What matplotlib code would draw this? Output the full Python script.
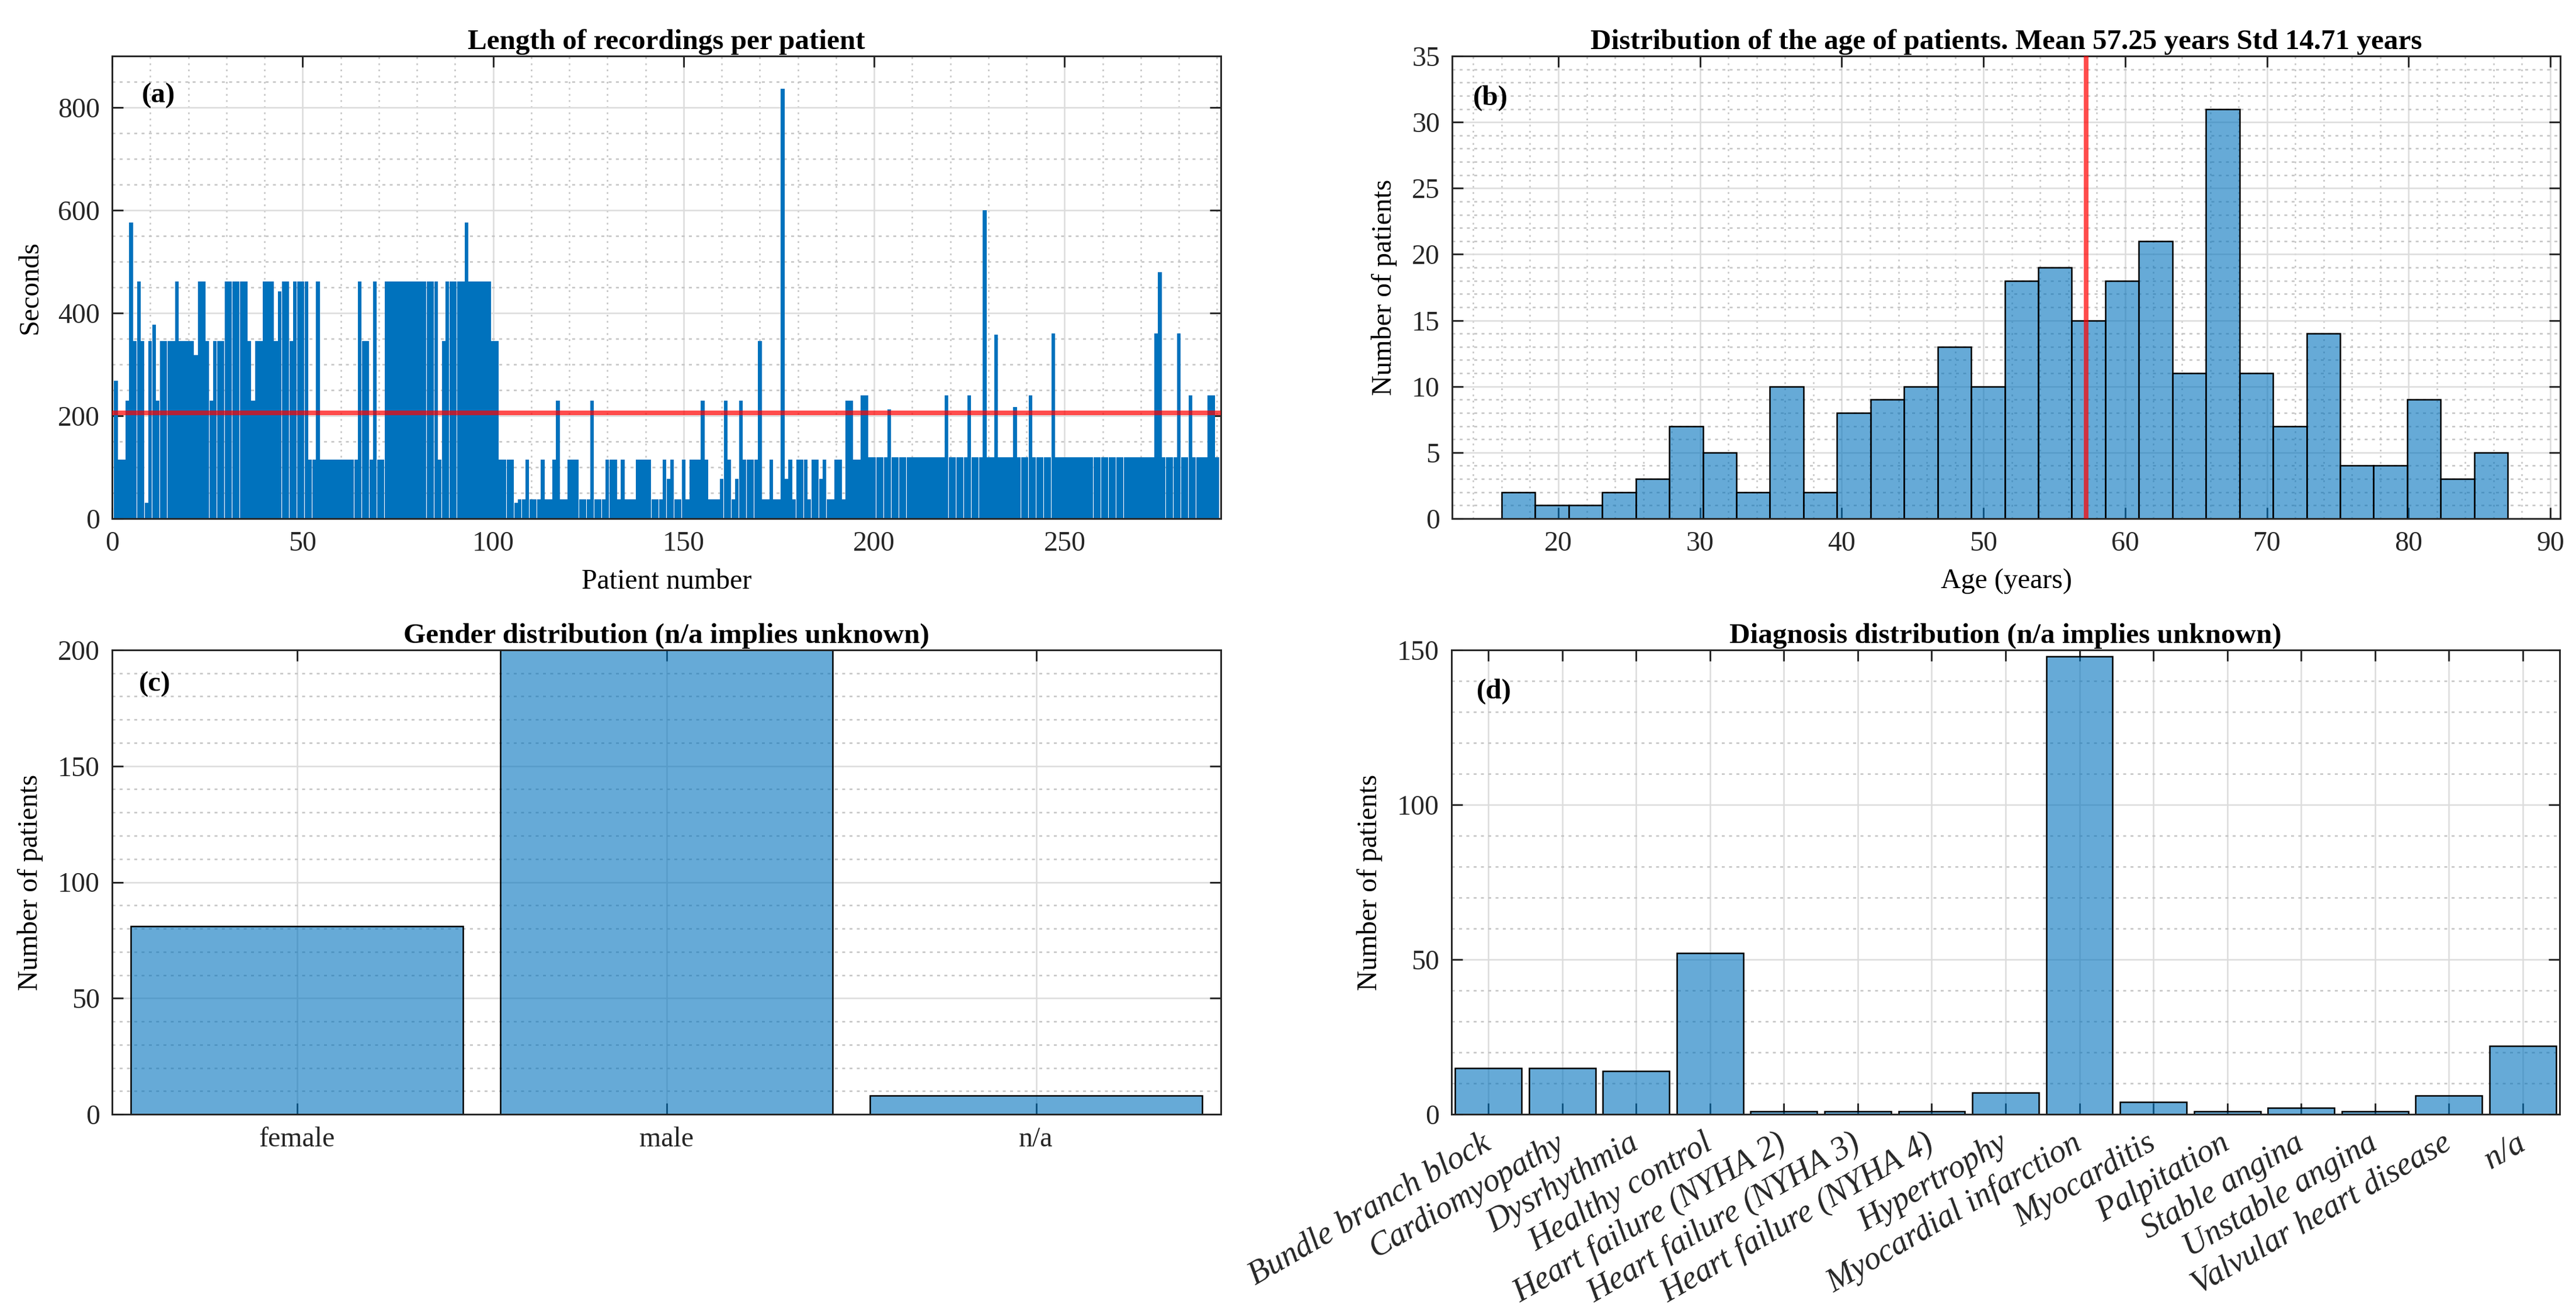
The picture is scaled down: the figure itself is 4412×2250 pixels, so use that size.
import numpy as np
import matplotlib
matplotlib.use("Agg")
import matplotlib.pyplot as plt
from matplotlib.ticker import MultipleLocator

SERIF = ['Liberation Serif', 'DejaVu Serif']
plt.rcParams['font.family'] = SERIF

# ---------------- data ----------------
recording_lengths = [
    268, 115, 115, 230, 576, 345, 461, 345, 31, 345,
    377, 230, 345, 345, 345, 345, 461, 345, 345, 345,
    345, 318, 461, 461, 345, 230, 345, 345, 345, 461,
    461, 461, 461, 461, 461, 345, 230, 345, 345, 461,
    461, 461, 345, 442, 461, 461, 345, 461, 461, 461,
    461, 115, 115, 461, 115, 115, 115, 115, 115, 115,
    115, 115, 115, 115, 461, 345, 345, 115, 461, 115,
    115, 461, 461, 461, 461, 461, 461, 461, 461, 461,
    461, 461, 461, 461, 461, 115, 345, 461, 461, 461,
    461, 461, 576, 461, 461, 461, 461, 461, 461, 345,
    345, 115, 115, 115, 115, 31, 38, 38, 115, 38,
    38, 38, 115, 38, 38, 115, 230, 38, 38, 115,
    115, 115, 38, 38, 38, 230, 38, 38, 38, 115,
    115, 115, 38, 115, 38, 38, 38, 115, 115, 115,
    115, 38, 38, 38, 115, 77, 115, 38, 38, 115,
    38, 115, 115, 115, 230, 115, 38, 38, 38, 77,
    230, 115, 38, 77, 230, 115, 115, 115, 115, 345,
    38, 38, 115, 38, 38, 836, 77, 115, 38, 115,
    115, 115, 38, 115, 115, 77, 115, 38, 38, 115,
    115, 38, 230, 230, 115, 115, 240, 240, 119, 119,
    119, 119, 119, 212, 119, 119, 119, 119, 119, 119,
    119, 119, 119, 119, 119, 119, 119, 119, 240, 119,
    119, 119, 119, 119, 240, 119, 119, 119, 600, 119,
    119, 358, 119, 119, 119, 119, 217, 119, 119, 119,
    240, 119, 119, 119, 119, 119, 360, 119, 119, 119,
    119, 119, 119, 119, 119, 119, 119, 119, 119, 119,
    119, 119, 119, 119, 119, 119, 119, 119, 119, 119,
    119, 119, 119, 360, 480, 119, 119, 119, 119, 360,
    119, 119, 240, 119, 119, 119, 119, 240, 240, 119,
]
patient_numbers = np.arange(1, len(recording_lengths) + 1)

age_bin_edges = np.linspace(16.0, 87.0, 31)
age_counts = [2, 1, 1, 2, 3, 7, 5, 2, 10, 2,
              8, 9, 10, 13, 10, 18, 19, 15, 18, 21,
              11, 31, 11, 7, 14, 4, 4, 9, 3, 5]
age_mean = 57.25
age_std = 14.71

gender_labels = ['female', 'male', 'n/a']
gender_counts = [81, 200, 8]

diagnosis_labels = ['Bundle branch block', 'Cardiomyopathy', 'Dysrhythmia',
                    'Healthy control', 'Heart failure (NYHA 2)',
                    'Heart failure (NYHA 3)', 'Heart failure (NYHA 4)',
                    'Hypertrophy', 'Myocardial infarction', 'Myocarditis',
                    'Palpitation', 'Stable angina', 'Unstable angina',
                    'Valvular heart disease', 'n/a']
diagnosis_counts = [15, 15, 14, 52, 1, 1, 1, 7, 148, 4, 1, 2, 1, 6, 22]

# ---------------- style ----------------
BLUE = '#0072BD'
FACE = (0.0, 0.447, 0.741, 0.6)
RED = (1.0, 0.0, 0.0, 0.7)
AXC = '#262626'
TICK_FS = 11.5
LABEL_FS = 11.5
TITLE_FS = 11.8

W, H = 4412, 2250
DPI = 300
fig = plt.figure(figsize=(W / DPI, H / DPI), dpi=DPI)


def px_axes(l, t, r, b):
    return fig.add_axes([l / W, 1 - b / H, (r - l) / W, (b - t) / H])


def style(ax, minor_x=True):
    for s in ax.spines.values():
        s.set_linewidth(0.7)
        s.set_color(AXC)
    ax.tick_params(which='major', direction='in', length=4.6, width=0.7,
                   top=True, right=True, colors=AXC, labelsize=TICK_FS, pad=5)
    ax.tick_params(which='minor', length=0, top=True, right=True)
    ax.set_axisbelow(True)
    ax.grid(which='major', color='#DCDCDC', lw=0.6, ls='-')
    ax.yaxis.grid(which='minor', color='#C4C4C4', lw=0.6, ls=(0, (2, 3)))
    if minor_x:
        ax.xaxis.grid(which='minor', color='#C4C4C4', lw=0.6, ls=(0, (1.2, 3)))


def panel_label(ax, txt, x, y):
    ax.text(x, y, txt, transform=ax.transAxes, fontsize=11.8, fontweight='bold',
            ha='left', va='center', color='black', zorder=10)


# ---------------- (a) ----------------
ax_a = px_axes(192, 96, 2091, 888)
ax_a.bar(patient_numbers, recording_lengths, width=0.96, color=BLUE,
         linewidth=0, zorder=2)
ax_a.axhline(np.mean(recording_lengths), color=RED, lw=1.9, zorder=3)
ax_a.set_xlim(0, 291)
ax_a.set_ylim(0, 900)
ax_a.xaxis.set_major_locator(MultipleLocator(50))
ax_a.xaxis.set_minor_locator(MultipleLocator(10))
ax_a.yaxis.set_major_locator(MultipleLocator(200))
ax_a.yaxis.set_minor_locator(MultipleLocator(50))
style(ax_a)
ax_a.set_title('Length of recordings per patient', fontsize=TITLE_FS,
               fontweight='bold', pad=3)
ax_a.set_xlabel('Patient number', fontsize=LABEL_FS, labelpad=5)
ax_a.set_ylabel('Seconds', fontsize=LABEL_FS, labelpad=6)
panel_label(ax_a, '(a)', 0.027, 0.914)

# ---------------- (b) ----------------
ax_b = px_axes(2487, 96, 4385, 888)
ax_b.bar(age_bin_edges[:-1], age_counts, width=np.diff(age_bin_edges),
         align='edge', facecolor=FACE, edgecolor='black', linewidth=0.6,
         zorder=2)
ax_b.axvline(age_mean, color=RED, lw=1.9, zorder=3)
ax_b.set_xlim(12.5, 90.7)
ax_b.set_ylim(0, 35)
ax_b.xaxis.set_major_locator(MultipleLocator(10))
ax_b.xaxis.set_minor_locator(MultipleLocator(2))
ax_b.yaxis.set_major_locator(MultipleLocator(5))
ax_b.yaxis.set_minor_locator(MultipleLocator(1))
style(ax_b)
ax_b.set_title('Distribution of the age of patients. Mean %.2f years Std %.2f years'
               % (age_mean, age_std), fontsize=TITLE_FS, fontweight='bold', pad=3)
ax_b.set_xlabel('Age (years)', fontsize=LABEL_FS, labelpad=5)
ax_b.set_ylabel('Number of patients', fontsize=LABEL_FS, labelpad=6)
panel_label(ax_b, '(b)', 0.019, 0.909)

# ---------------- (c) ----------------
ax_c = px_axes(192, 1113, 2091, 1908)
gx = np.arange(1, len(gender_counts) + 1)
ax_c.bar(gx, gender_counts, width=0.9, facecolor=FACE, edgecolor='black',
         linewidth=0.6, zorder=2)
ax_c.set_xlim(0.5, len(gender_counts) + 0.5)
ax_c.set_ylim(0, 200)
ax_c.set_xticks(gx)
ax_c.set_xticklabels(gender_labels)
ax_c.yaxis.set_major_locator(MultipleLocator(50))
ax_c.yaxis.set_minor_locator(MultipleLocator(10))
style(ax_c, minor_x=False)
ax_c.set_title('Gender distribution (n/a implies unknown)', fontsize=TITLE_FS,
               fontweight='bold', pad=3)
ax_c.set_ylabel('Number of patients', fontsize=LABEL_FS, labelpad=6)
panel_label(ax_c, '(c)', 0.024, 0.926)

# ---------------- (d) ----------------
ax_d = px_axes(2486, 1113, 4384, 1908)
dx = np.arange(1, len(diagnosis_counts) + 1)
ax_d.bar(dx, diagnosis_counts, width=0.9, facecolor=FACE, edgecolor='black',
         linewidth=0.6, zorder=2)
ax_d.set_xlim(0.5, len(diagnosis_counts) + 0.5)
ax_d.set_ylim(0, 150)
ax_d.yaxis.set_major_locator(MultipleLocator(50))
ax_d.yaxis.set_minor_locator(MultipleLocator(10))
style(ax_d, minor_x=False)
ax_d.set_xticks(dx)
ax_d.set_xticklabels(diagnosis_labels, rotation=30, ha='right', va='center',
                     rotation_mode='anchor', fontstyle='italic')
ax_d.tick_params(axis='x', which='major', pad=11, labelsize=13.5)
ax_d.set_title('Diagnosis distribution (n/a implies unknown)', fontsize=TITLE_FS,
               fontweight='bold', pad=3)
ax_d.set_ylabel('Number of patients', fontsize=LABEL_FS, labelpad=6)
panel_label(ax_d, '(d)', 0.0225, 0.911)

fig.savefig('out.png', dpi=DPI, facecolor='white')
